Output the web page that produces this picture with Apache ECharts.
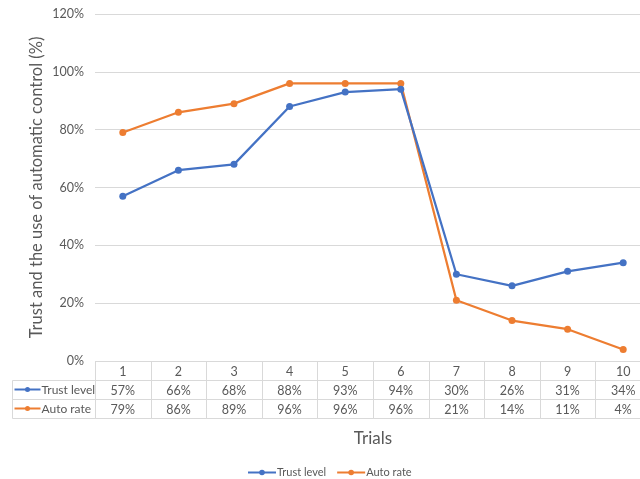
<!DOCTYPE html>
<html>
<head>
<meta charset="utf-8">
<script src="https://cdn.jsdelivr.net/npm/echarts@6/dist/echarts.min.js"></script>
<style>
  html, body { margin: 0; padding: 0; background: #fff; }
  #chart { width: 640px; height: 479px; }
</style>
</head>
<body>
<div id="chart"></div>
<script>
// Trials and the two measured series (percent)
const trials = ['1', '2', '3', '4', '5', '6', '7', '8', '9', '10'];
const trustLevel = [57, 66, 68, 88, 93, 94, 30, 26, 31, 34];
const autoRate = [79, 86, 89, 96, 96, 96, 21, 14, 11, 4];
const seriesNames = ['Trust level', 'Auto rate'];
const seriesColors = ['#4472C4', '#ED7D31'];
const yTicks = [0, 20, 40, 60, 80, 100, 120];

const FONT = 'Lato';
const TEXT = '#595959';
const BORDER = '#d9d9d9';
const TABLE_LEFT = 12;
const PLOT_LEFT = 95;
const PLOT_WIDTH = 556;

// Data table cells: row 0 holds trial numbers, rows 1-2 the series values
const tableRows = [trials, trustLevel.map(v => v + '%'), autoRate.map(v => v + '%')];
const tableCells = [];
tableRows.forEach((row, r) => row.forEach((_, c) => tableCells.push([c, r])));

const chart = echarts.init(document.getElementById('chart'), null, { renderer: 'canvas' });

function renderCell(params, api) {
  const c = api.value(0), r = api.value(1);
  const p = api.coord([c, r]);
  const s = api.size([1, 1]);
  const xl = Math.round(p[0] - s[0] / 2), xr = Math.round(p[0] + s[0] / 2);
  const yt = Math.round(p[1] - s[1] / 2), yb = Math.round(p[1] + s[1] / 2);
  const x0 = xl + 0.5, y0 = yt + 0.5;
  const w = xr - xl, h = yb - yt;
  const children = [
    { type: 'rect', shape: { x: x0, y: y0, width: w, height: h },
      style: { fill: 'none', stroke: BORDER, lineWidth: 1 } },
    { type: 'text', style: { x: p[0], y: p[1] + 1, text: String(tableRows[r][c]),
      align: 'center', verticalAlign: 'middle', fill: TEXT, fontSize: 12.5, fontFamily: FONT } }
  ];
  if (c === 0 && r > 0) {
    const lx = TABLE_LEFT + 0.5;
    const color = seriesColors[r - 1];
    const cy = p[1];
    children.push(
      { type: 'rect', shape: { x: lx, y: y0, width: x0 - lx, height: h },
        style: { fill: 'none', stroke: BORDER, lineWidth: 1 } },
      { type: 'line', shape: { x1: lx + 2, y1: cy, x2: lx + 28, y2: cy },
        style: { stroke: color, lineWidth: 2 } },
      { type: 'circle', shape: { cx: lx + 15, cy: cy, r: 2.5 }, style: { fill: color } },
      { type: 'text', style: { x: lx + 29, y: cy + 1, text: seriesNames[r - 1],
        align: 'left', verticalAlign: 'middle', fill: TEXT, fontSize: 12, fontFamily: FONT } }
    );
  }
  return { type: 'group', children: children };
}

const lineSeries = [trustLevel, autoRate].map((data, i) => ({
  name: seriesNames[i],
  type: 'line',
  xAxisIndex: 0,
  yAxisIndex: 0,
  data: data,
  symbol: 'circle',
  symbolSize: 7,
  lineStyle: { width: 2.25, color: seriesColors[i] },
  itemStyle: { color: seriesColors[i] },
  z: i === 0 ? 3 : 2
}));

chart.setOption({
  animation: false,
  backgroundColor: '#fff',
  textStyle: { fontFamily: FONT },
  legend: {
    data: seriesNames,
    left: 242,
    top: 462,
    itemWidth: 28,
    itemHeight: 7,
    itemGap: 10,
    textStyle: { color: TEXT, fontSize: 11, fontFamily: FONT, padding: [0, 0, 0, -4] }
  },
  grid: [
    { left: PLOT_LEFT, width: PLOT_WIDTH, top: 14, height: 347, outerBoundsMode: 'none', containLabel: false },
    { left: PLOT_LEFT, width: PLOT_WIDTH, top: 361, height: 57, outerBoundsMode: 'none', containLabel: false }
  ],
  xAxis: [
    {
      type: 'category', gridIndex: 0, data: trials, boundaryGap: true,
      axisLine: { show: false }, axisTick: { show: false }, axisLabel: { show: false }
    },
    {
      type: 'category', gridIndex: 1, data: trials, boundaryGap: true,
      axisLine: { show: false }, axisTick: { show: false }, axisLabel: { show: false },
      name: 'Trials', nameLocation: 'middle', nameGap: 12,
      nameTextStyle: { color: TEXT, fontSize: 17, fontFamily: FONT }
    }
  ],
  yAxis: [
    {
      type: 'value', gridIndex: 0,
      min: yTicks[0], max: yTicks[yTicks.length - 1], interval: 20,
      axisLine: { show: false }, axisTick: { show: false },
      axisLabel: { color: TEXT, fontSize: 12.5, margin: 11, formatter: '{value}%', fontFamily: FONT },
      splitLine: { lineStyle: { color: BORDER, width: 1 } },
      name: 'Trust and the use of automatic control (%)',
      nameLocation: 'middle', nameGap: 50, nameRotate: 90, nameMoveOverlap: false,
      nameTextStyle: { color: TEXT, fontSize: 16.5, fontFamily: FONT }
    },
    {
      type: 'category', gridIndex: 1, data: ['trial', 'trust', 'auto'], inverse: true,
      axisLine: { show: false }, axisTick: { show: false }, axisLabel: { show: false },
      splitLine: { show: false }
    }
  ],
  series: lineSeries.concat([{
    type: 'custom',
    xAxisIndex: 1,
    yAxisIndex: 1,
    data: tableCells,
    renderItem: renderCell,
    silent: true,
    clip: false
  }])
});
</script>
</body>
</html>
